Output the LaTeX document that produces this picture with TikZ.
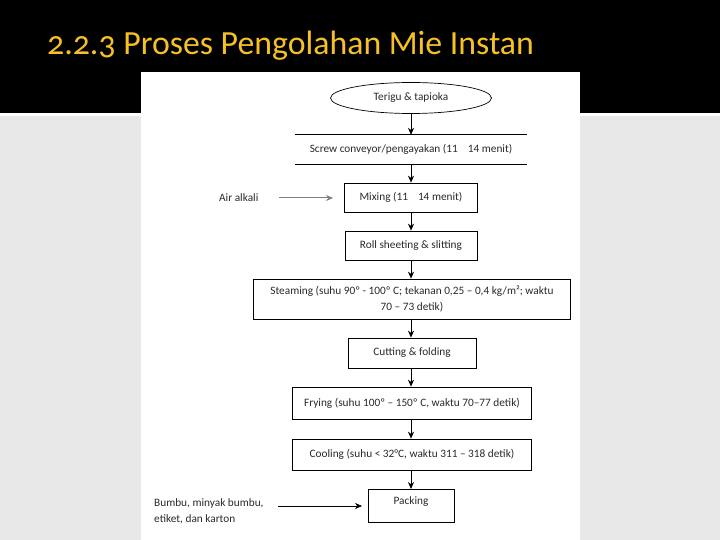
\documentclass[tikz,border=0pt]{standalone}
\usepackage{fontspec}
\setmainfont{Carlito}
\newfontfamily\titlefont[Numbers=OldStyle]{Carlito}
\usetikzlibrary{arrows.meta,shapes.geometric}
\definecolor{titleyellow}{HTML}{F5C126}
\definecolor{slidegray}{HTML}{E8E8E8}
\definecolor{inkgray}{HTML}{2A2A2A}
\tikzset{
  x=1pt,y=-1pt,
  every node/.style={font=\fontsize{11.3}{16}\selectfont, text=inkgray, inner sep=0pt},
  procbox/.style={draw=black, line width=0.7pt, align=center},
  flow/.style={draw=black, line width=0.7pt, -{Stealth[length=7pt,width=6pt]}},
  sideflow/.style={draw=gray, line width=1pt, -{Stealth[length=7pt,width=6pt]}},
}
\begin{document}
\begin{tikzpicture}
\useasboundingbox (0,0) rectangle (720,540);
% background
\fill[slidegray] (0,0) rectangle (720,540);
\fill[black] (0,0) rectangle (720,113);
\fill[white] (0,113) rectangle (720,116);
\fill[white] (141,72) rectangle (580,540);
% title
\node[anchor=base west, font=\titlefont\fontsize{33.8}{38}\selectfont, text=titleyellow] (title) at (47,55) {2.2.3 Proses Pengolahan Mie Instan};
% flow nodes
\node[ellipse, draw=black, line width=0.7pt, minimum width=161, minimum height=31] (terigu) at (411,98) {Terigu \& tapioka};
\node[minimum width=231, minimum height=29] (screw) at (411,149.5) {Screw conveyor/pengayakan (11\hspace{10pt}14 menit)};
\draw[line width=0.7pt] (screw.north west) -- (screw.north east);
\draw[line width=0.7pt] (screw.south west) -- (screw.south east);
\node[procbox, minimum width=133, minimum height=29] (mixing) at (411,197.5) {Mixing (11\hspace{10pt}14 menit)};
\node[procbox, minimum width=132, minimum height=29] (roll) at (411,245.5) {Roll sheeting \& slitting};
\node[procbox, minimum width=317, minimum height=40] (steam) at (412,299) {Steaming (suhu 90º - 100º C; tekanan 0,25 – 0,4 kg/m²; waktu\\70 – 73 detik)};
\node[procbox, minimum width=128, minimum height=30] (cut) at (412,353) {Cutting \& folding};
\node[procbox, minimum width=239, minimum height=32] (fry) at (412,403) {Frying (suhu 100º – 150º C, waktu 70–77 detik)};
\node[procbox, minimum width=239, minimum height=31] (cool) at (412,454.5) {Cooling (suhu < 32°C, waktu 311 – 318 detik)};
\node[procbox, minimum width=86, minimum height=33, anchor=north] (pack) at (411,489) {};
\node[anchor=center] (packtxt) at (411,502) {Packing};
% side inputs
\node[anchor=west] (air) at (219,198) {Air alkali};
\coordinate (airend) at (333,198);
\node[anchor=north west, align=left, font=\fontsize{11.3}{16}\selectfont] (bumbu) at (154,498) {Bumbu, minyak bumbu,\\etiket, dan karton};
\coordinate (bumbustart) at (278,506);
\coordinate (bumbuend) at (362,506);
% connectors
\draw[flow] (terigu.south) -- (terigu.south |- screw.north);
\draw[flow] (screw.south) -- (screw.south |- mixing.north);
\draw[flow] (mixing.south) -- (mixing.south |- roll.north);
\draw[flow] (roll.south) -- (roll.south |- steam.north);
\draw[flow] (roll.south |- steam.south) -- (roll.south |- cut.north);
\draw[flow] (roll.south |- cut.south) -- (roll.south |- fry.north);
\draw[flow] (roll.south |- fry.south) -- (roll.south |- cool.north);
\draw[flow] (roll.south |- cool.south) -- (roll.south |- pack.north);
\draw[sideflow] (air.east -| 279,0) -- (airend);
\draw[flow, line width=0.6pt] (bumbustart) -- (bumbuend);
\end{tikzpicture}
\end{document}
